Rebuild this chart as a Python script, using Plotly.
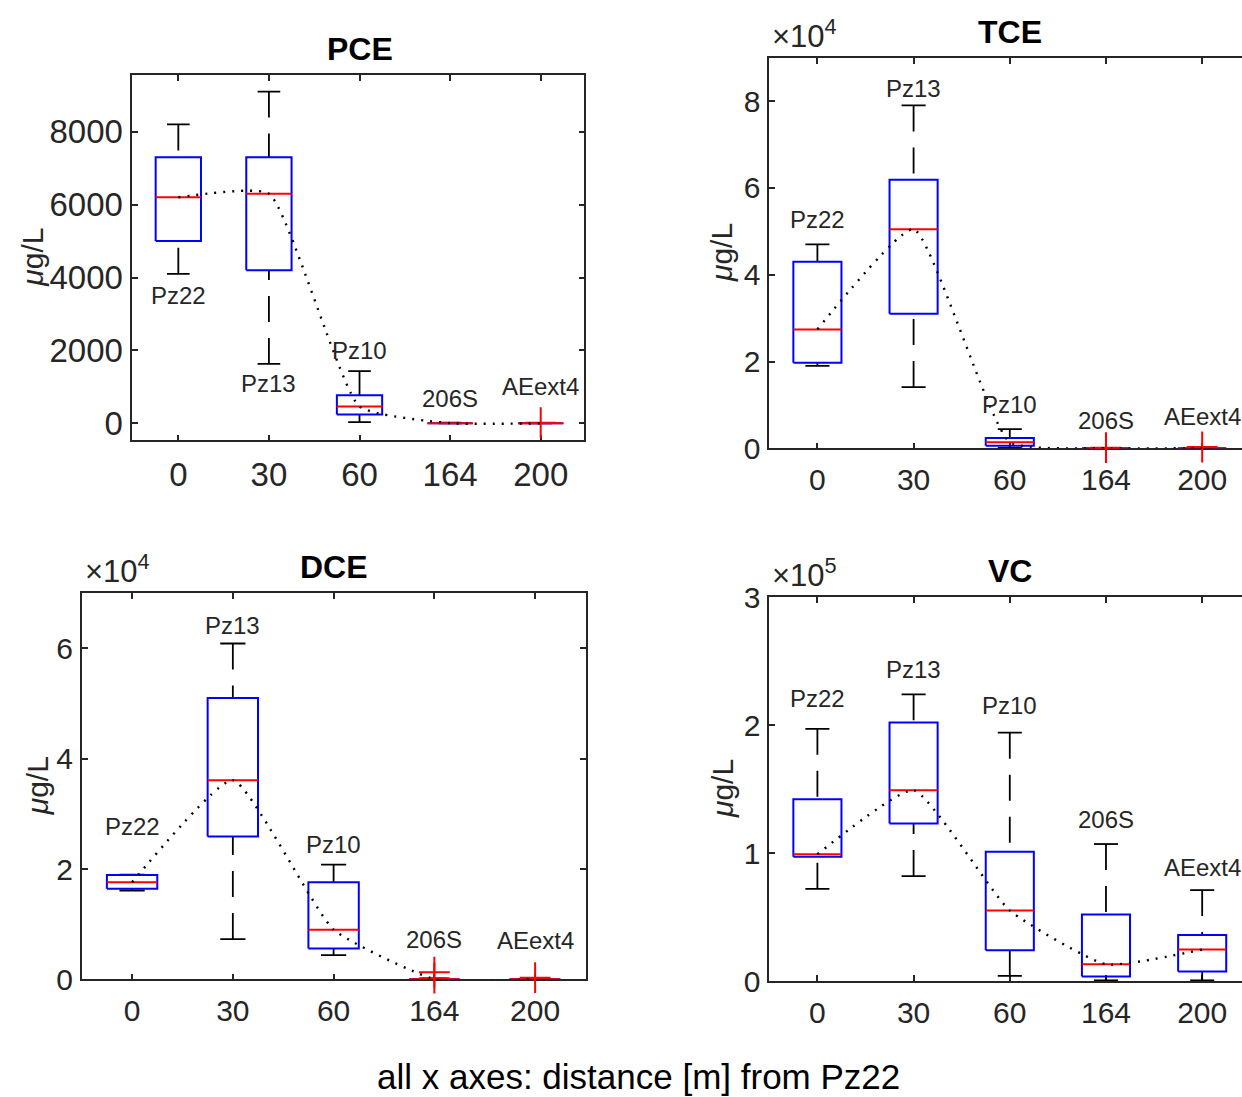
import plotly.graph_objects as go

# ---- data -------------------------------------------------------------
distances = ["0", "30", "60", "164", "200"]          # distance [m] from Pz22
wells = ["Pz22", "Pz13", "Pz10", "206S", "AEext4"]

# five-number summaries per well: [lower whisker, q1, median, q3, upper whisker]  (µg/L)
pce_stats = [
    [4100, 5000, 6200, 7300, 8200],
    [1630, 4200, 6300, 7300, 9100],
    [30, 240, 460, 770, 1430],
    [0, 0, 5, 10, 20],
    [0, 0, 0, 5, 10],
]
pce_outliers = [[], [], [], [], [15]]

tce_stats = [
    [19000, 19700, 27400, 43000, 47000],
    [14100, 31000, 50500, 61900, 79000],
    [100, 600, 1400, 2400, 4400],
    [0, 0, 20, 60, 100],
    [0, 0, 30, 80, 150],
]
tce_outliers = [[], [], [], [150], [300]]

dce_stats = [
    [16100, 16400, 17600, 18900, 19000],
    [7300, 25900, 36100, 51000, 60900],
    [4400, 5600, 9000, 17600, 20800],
    [0, 0, 30, 80, 150],
    [0, 0, 30, 80, 150],
]
dce_outliers = [[], [], [], [1300, 200], [300]]

vc_stats = [
    [72000, 97000, 99000, 142000, 197000],
    [82000, 123000, 149000, 202000, 224000],
    [4000, 24000, 55000, 101000, 194000],
    [500, 3600, 13000, 52000, 107000],
    [500, 7500, 24600, 36000, 71000],
]
vc_outliers = [[], [], [], [], []]

# heights (µg/L) at which the well names are written
pce_label_y = [3500, 1100, 2000, 680, 1000]
tce_label_y = [52700, 83000, 10200, 6500, 7400]
dce_label_y = [27800, 64200, 24400, 7300, 7100]
vc_label_y = [221000, 243000, 215000, 126000, 89000]

# y ticks
pce_ticks = [0, 2000, 4000, 6000, 8000]
pce_ticklabels = ["0", "2000", "4000", "6000", "8000"]
tce_ticks = [0, 20000, 40000, 60000, 80000]
tce_ticklabels = ["0", "2", "4", "6", "8"]
dce_ticks = [0, 20000, 40000, 60000]
dce_ticklabels = ["0", "2", "4", "6"]
vc_ticks = [0, 100000, 200000, 300000]
vc_ticklabels = ["0", "1", "2", "3"]

# ---- layout helpers ---------------------------------------------------
W, H = 1242, 1097
FONT = "Liberation Sans, Arial, Helvetica, sans-serif"
AX = "#262626"
BLUE, RED = "#0000FF", "#FF0000"
HALF_BOX, HALF_CAP = 0.25, 0.125


def fx(px):
    return px / W


def fy(py):
    return 1 - py / H


panels = [
    dict(title="PCE", stats=pce_stats, out=pce_outliers, lab=pce_label_y,
         ticks=pce_ticks, ticktext=pce_ticklabels, exp=None,
         box=(132.3, 75.0, 584.3, 440.3), xr=(0.492, 5.481), yr=(-466, 9556),
         tfs=33, ylab_x=33, cut=False),
    dict(title="TCE", stats=tce_stats, out=tce_outliers, lab=tce_label_y,
         ticks=tce_ticks, ticktext=tce_ticklabels, exp="4",
         box=(769.3, 57.7, 1242.0, 448.3), xr=(0.5, 5.414), yr=(0, 90000),
         tfs=30, ylab_x=722, cut=True),
    dict(title="DCE", stats=dce_stats, out=dce_outliers, lab=dce_label_y,
         ticks=dce_ticks, ticktext=dce_ticklabels, exp="4",
         box=(81.7, 593.3, 585.5, 979.3), xr=(0.5, 5.5), yr=(0, 70000),
         tfs=30, ylab_x=37, cut=False),
    dict(title="VC", stats=vc_stats, out=vc_outliers, lab=vc_label_y,
         ticks=vc_ticks, ticktext=vc_ticklabels, exp="5",
         box=(769.3, 597.0, 1242.0, 981.0), xr=(0.5, 5.414), yr=(0, 300000),
         tfs=30, ylab_x=722, cut=True),
]

fig = go.Figure()
annotations = []
positions = list(range(1, len(distances) + 1))

for i, p in enumerate(panels):
    sfx = "" if i == 0 else str(i + 1)
    xa, ya = "x" + sfx, "y" + sfx
    l, t, r, b = p["box"]

    # whiskers (dashed, drawn from cap toward box), caps, boxes, medians
    wx, wy, cx, cy, bx, by, mx, my, ox, oy = [], [], [], [], [], [], [], [], [], []
    for xpos, (lo, q1, med, q3, hi), outs in zip(positions, p["stats"], p["out"]):
        wx += [xpos, xpos, None, xpos, xpos, None]
        wy += [hi, q3, None, lo, q1, None]
        cx += [xpos - HALF_CAP, xpos + HALF_CAP, None, xpos - HALF_CAP, xpos + HALF_CAP, None]
        cy += [hi, hi, None, lo, lo, None]
        bx += [xpos - HALF_BOX, xpos + HALF_BOX, xpos + HALF_BOX, xpos - HALF_BOX, xpos - HALF_BOX, None]
        by += [q1, q1, q3, q3, q1, None]
        mx += [xpos - HALF_BOX, xpos + HALF_BOX, None]
        my += [med, med, None]
        for o in outs:
            ox.append(xpos)
            oy.append(o)

    common = dict(xaxis=xa, yaxis=ya, showlegend=False, hoverinfo="skip")
    fig.add_trace(go.Scatter(x=wx, y=wy, mode="lines",
                             line=dict(color="black", width=1.8, dash="26px,16px"), **common))
    fig.add_trace(go.Scatter(x=cx, y=cy, mode="lines",
                             line=dict(color="black", width=1.8), **common))
    fig.add_trace(go.Scatter(x=bx, y=by, mode="lines",
                             line=dict(color=BLUE, width=2), **common))
    fig.add_trace(go.Scatter(x=mx, y=my, mode="lines",
                             line=dict(color=RED, width=2), **common))
    if ox:
        fig.add_trace(go.Scatter(x=ox, y=oy, mode="markers", cliponaxis=False,
                                 marker=dict(symbol="cross-thin", size=22,
                                             line=dict(color=RED, width=2)), **common))
    # dotted trend through the medians
    medians = [s[2] for s in p["stats"]]
    fig.add_trace(go.Scatter(x=positions, y=medians, mode="lines",
                             line=dict(color="black", width=2.4, dash="2px,7px",
                                       shape="spline", smoothing=0.45), **common))

    # axes
    mirror_y = False if p["cut"] else "ticks"
    fig.layout["xaxis" + sfx] = dict(
        domain=[fx(l), fx(r)], anchor=ya, range=list(p["xr"]),
        tickmode="array", tickvals=positions, ticktext=distances,
        ticks="inside", ticklen=6, tickwidth=1.5, tickcolor=AX,
        showline=True, linecolor=AX, linewidth=1.6, mirror="ticks",
        showgrid=False, zeroline=False, layer="below traces", automargin=False,
        tickfont=dict(family=FONT, size=p["tfs"], color=AX), ticklabelstandoff=4,
        fixedrange=True)
    fig.layout["yaxis" + sfx] = dict(
        domain=[fy(b), fy(t)], anchor=xa, range=list(p["yr"]),
        tickmode="array", tickvals=p["ticks"], ticktext=p["ticktext"],
        ticks="inside", ticklen=6, tickwidth=1.5, tickcolor=AX,
        showline=True, linecolor=AX, linewidth=1.6, mirror=mirror_y,
        showgrid=False, zeroline=False, layer="below traces", automargin=False,
        tickfont=dict(family=FONT, size=p["tfs"], color=AX), ticklabelstandoff=1,
        fixedrange=True)

    # well names
    for xpos, name, ly in zip(positions, wells, p["lab"]):
        annotations.append(dict(x=xpos, y=ly, xref=xa, yref=ya, text=name, showarrow=False,
                                xanchor="center", yanchor="middle",
                                font=dict(family=FONT, size=24, color=AX)))

    # title centred on the full axes width
    spacing = (r - l) / (p["xr"][1] - p["xr"][0])
    centre = l + (3.0 - p["xr"][0]) * spacing
    annotations.append(dict(x=fx(centre), y=fy(t - 26), xref="paper", yref="paper",
                            text="<b>%s</b>" % p["title"], showarrow=False,
                            xanchor="center", yanchor="middle",
                            font=dict(family=FONT, size=32, color="black")))
    # y label
    annotations.append(dict(x=fx(p["ylab_x"]), y=fy((t + b) / 2), xref="paper", yref="paper",
                            text="<i>μ</i>g/L", textangle=-90, showarrow=False,
                            xanchor="center", yanchor="middle",
                            font=dict(family=FONT, size=30, color=AX)))
    # exponent
    if p["exp"]:
        annotations.append(dict(x=fx(l + 1), y=fy(t - 2), xref="paper", yref="paper",
                                text="×10<sup>%s</sup>" % p["exp"], showarrow=False,
                                xanchor="left", yanchor="bottom",
                                font=dict(family=FONT, size=31, color=AX)))

annotations.append(dict(x=fx(639), y=fy(1076), xref="paper", yref="paper",
                        text="all x axes: distance [m] from Pz22", showarrow=False,
                        xanchor="center", yanchor="middle",
                        font=dict(family=FONT, size=35, color="black")))

fig.update_layout(width=W, height=H,
                  margin=dict(l=0, r=0, t=0, b=0, pad=0, autoexpand=False),
                  paper_bgcolor="white", plot_bgcolor="white",
                  annotations=annotations, showlegend=False)

fig.write_html("out.html", config={"displayModeBar": False})
